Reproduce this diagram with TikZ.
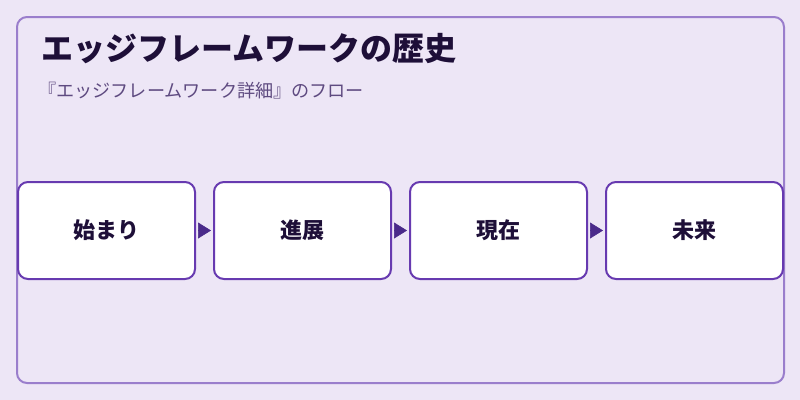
\documentclass[tikz,border=0pt]{standalone}
\usepackage{fontspec}
\setmainfont{Noto Sans CJK JP}
\usetikzlibrary{arrows.meta}
\definecolor{bg}{HTML}{EDE6F6}
\definecolor{frame}{HTML}{9A7ECC}
\definecolor{boxline}{HTML}{673AB0}
\definecolor{arrowc}{HTML}{4A2A8A}
\definecolor{titlec}{HTML}{1E0F38}
\definecolor{subc}{HTML}{5E4A80}
\tikzset{
  stagebox/.style={draw=boxline, line width=1.5pt, fill=white, rounded corners=7.5pt,
    minimum width=132.75pt, minimum height=72.75pt, inner sep=0pt,
    font=\fontsize{16.5pt}{19pt}\selectfont\bfseries, text=titlec},
  flowarrow/.style={draw=arrowc, fill=arrowc, line width=0.375pt,
    -{Triangle[length=9.75pt,width=12pt]}, shorten <=1.5pt, shorten >=1.5pt},
}
\begin{document}
\begin{tikzpicture}[x=0.75pt,y=-0.75pt]
\useasboundingbox (0,0) rectangle (800,400);
\fill[bg] (0,0) rectangle (800,400);
\draw[frame, line width=1.5pt, rounded corners=7.5pt] (17,17) rectangle (784,383);
\node[anchor=west, text=titlec, font=\fontsize{24pt}{28pt}\selectfont\bfseries, inner sep=0pt] (title) at (41,48.5) {エッジフレームワークの歴史};
\node[anchor=west, text=subc, font=\fontsize{13.6pt}{16pt}\selectfont, inner sep=0pt] (sub) at (38,91) {『エッジフレームワーク詳細』のフロー};
\node[stagebox] (b1) at (106.5,230.5) {始まり};
\node[stagebox] (b2) at (302.5,230.5) {進展};
\node[stagebox] (b3) at (498.5,230.5) {現在};
\node[stagebox] (b4) at (694.5,230.5) {未来};
\draw[flowarrow] (b1.east) -- (b2.west);
\draw[flowarrow] (b2.east) -- (b3.west);
\draw[flowarrow] (b3.east) -- (b4.west);
\end{tikzpicture}
\end{document}
